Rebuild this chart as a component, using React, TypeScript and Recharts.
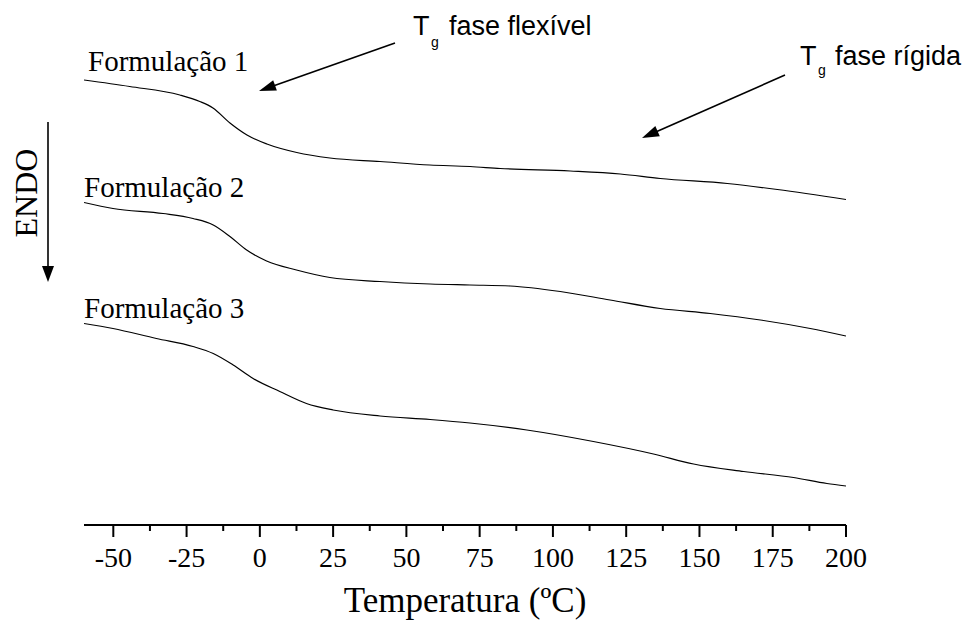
import React from "react";
import { LineChart, Line, XAxis, YAxis, Customized } from "recharts";

// DSC curves: temperature (ºC) vs heat flow (arbitrary units, curves offset vertically)
const tempF1 = [-60, -44.4, -27.3, -20.5, -16, -10.2, -4.4, 2.4, 12.6, 23.9, 41, 58, 71.7, 82, 105.9, 123, 136.6, 159.5, 176.6, 200];
const heatF1 = [89.0, 87.7, 86.0, 84.7, 83.4, 80.4, 78.0, 76.2, 74.5, 73.4, 72.7, 72.0, 71.7, 71.3, 70.8, 70.2, 69.3, 68.3, 67.1, 65.1];

const tempF2 = [-60, -50.1, -33, -22.8, -15.9, -10.2, -4.5, 2.3, 12.5, 23.9, 41, 58.1, 71.7, 85.4, 102.5, 119.5, 136.6, 153.7, 170.8, 187.8, 200];
const heatF2 = [64.5, 63.3, 62.3, 61.3, 60.0, 57.7, 55.0, 52.8, 51.0, 49.5, 48.7, 48.2, 48.0, 47.8, 46.7, 45.0, 43.3, 42.3, 41.0, 39.3, 37.8];

const tempF3 = [-60, -50.1, -35.3, -22.8, -15.9, -9.1, -2.3, 6.8, 15.9, 25, 41, 58.1, 71.7, 91.1, 113.8, 134.3, 148, 165.1, 182.1, 193.5, 200];
const heatF3 = [40.3, 39.3, 37.3, 35.7, 34.3, 32.0, 29.3, 26.7, 24.3, 23.0, 21.8, 21.1, 20.4, 19.0, 16.7, 14.2, 12.2, 10.7, 9.5, 8.3, 7.8];

const seriesNames = ["Formulação 1", "Formulação 2", "Formulação 3"];

const majorTicks = [-50, -25, 0, 25, 50, 75, 100, 125, 150, 175, 200];
const minorTicks = [-37.5, -12.5, 12.5, 37.5, 62.5, 87.5, 112.5, 137.5, 162.5, 187.5];
const allTicks = [...majorTicks, ...minorTicks].sort((a, b) => a - b);

const xTitle = "Temperatura (ºC)";
const yTitle = "ENDO";
const noteFlex = "fase flexível";
const noteRigid = "fase rígida";

const SERIF = "'Liberation Serif', 'Times New Roman', serif";
const SANS = "'Liberation Sans', Arial, sans-serif";

const toPoints = (t: number[], v: number[]) => t.map((x, i) => ({ t: x, v: v[i] }));
const curves = [toPoints(tempF1, heatF1), toPoints(tempF2, heatF2), toPoints(tempF3, heatF3)];

const TickMark = (props: any) => {
  const { x, y, payload } = props;
  const major = majorTicks.includes(payload.value);
  return (
    <g>
      <line x1={x} x2={x} y1={y} y2={y + (major ? 12 : 6)} stroke="#000" strokeWidth={2} />
      {major && (
        <text x={x} y={y + 42} textAnchor="middle" fontFamily={SERIF} fontSize={28} fill="#000">
          {payload.value}
        </text>
      )}
    </g>
  );
};

const Arrow = ({ x1, y1, x2, y2, head = 17, half = 5.5 }: any) => {
  const dx = x2 - x1;
  const dy = y2 - y1;
  const len = Math.hypot(dx, dy);
  const ux = dx / len;
  const uy = dy / len;
  const bx = x2 - ux * head;
  const by = y2 - uy * head;
  const px = -uy * half;
  const py = ux * half;
  return (
    <g>
      <line x1={x1} y1={y1} x2={bx + ux * 2} y2={by + uy * 2} stroke="#000" strokeWidth={1.6} />
      <polygon points={`${x2},${y2} ${bx + px},${by + py} ${bx - px},${by - py}`} fill="#000" />
    </g>
  );
};

const Annotations = () => (
  <g>
    <text x={88} y={71} fontFamily={SERIF} fontSize={29} fill="#000">{seriesNames[0]}</text>
    <text x={84} y={197} fontFamily={SERIF} fontSize={29} fill="#000">{seriesNames[1]}</text>
    <text x={84} y={318} fontFamily={SERIF} fontSize={29} fill="#000">{seriesNames[2]}</text>

    <text x={413} y={35} fontFamily={SANS} fontSize={27} fill="#000">T</text>
    <text x={431} y={47} fontFamily={SANS} fontSize={14} fill="#000">g</text>
    <text x={449} y={35} fontFamily={SANS} fontSize={27} fill="#000">{noteFlex}</text>
    <Arrow x1={395} y1={43} x2={259} y2={91} />

    <text x={800} y={65} fontFamily={SANS} fontSize={27} fill="#000">T</text>
    <text x={818} y={75} fontFamily={SANS} fontSize={14} fill="#000">g</text>
    <text x={835} y={65} fontFamily={SANS} fontSize={27} fill="#000">{noteRigid}</text>
    <Arrow x1={785} y1={75} x2={642} y2={138} />

    <text x={37} y={193} transform="rotate(-90 37 193)" textAnchor="middle" fontFamily={SERIF} fontSize={32} fill="#000">
      {yTitle}
    </text>
    <Arrow x1={48} y1={122} x2={48} y2={282} head={16} half={6} />

    <text x={465} y={612} textAnchor="middle" fontFamily={SERIF} fontSize={35} fill="#000">{xTitle}</text>
  </g>
);

export default function App() {
  return (
    <div style={{ position: "absolute", left: 0, top: 0, width: 968, height: 632, background: "#fff" }}>
      <LineChart width={968} height={632} margin={{ top: 25, right: 122, left: 84, bottom: 0 }}>
        <XAxis
          dataKey="t"
          type="number"
          domain={[-60, 200]}
          ticks={allTicks}
          interval={0}
          allowDataOverflow
          height={107}
          tickSize={0}
          tickMargin={0}
          tickLine={false}
          axisLine={{ stroke: "#000", strokeWidth: 2 }}
          tick={<TickMark />}
        />
        <YAxis type="number" domain={[0, 100]} hide width={0} />
        {curves.map((pts, i) => (
          <Line
            key={seriesNames[i]}
            data={pts}
            dataKey="v"
            name={seriesNames[i]}
            type="monotone"
            stroke="#000"
            strokeWidth={1.2}
            dot={false}
            activeDot={false}
            isAnimationActive={false}
          />
        ))}
        <Customized component={Annotations} />
      </LineChart>
    </div>
  );
}
